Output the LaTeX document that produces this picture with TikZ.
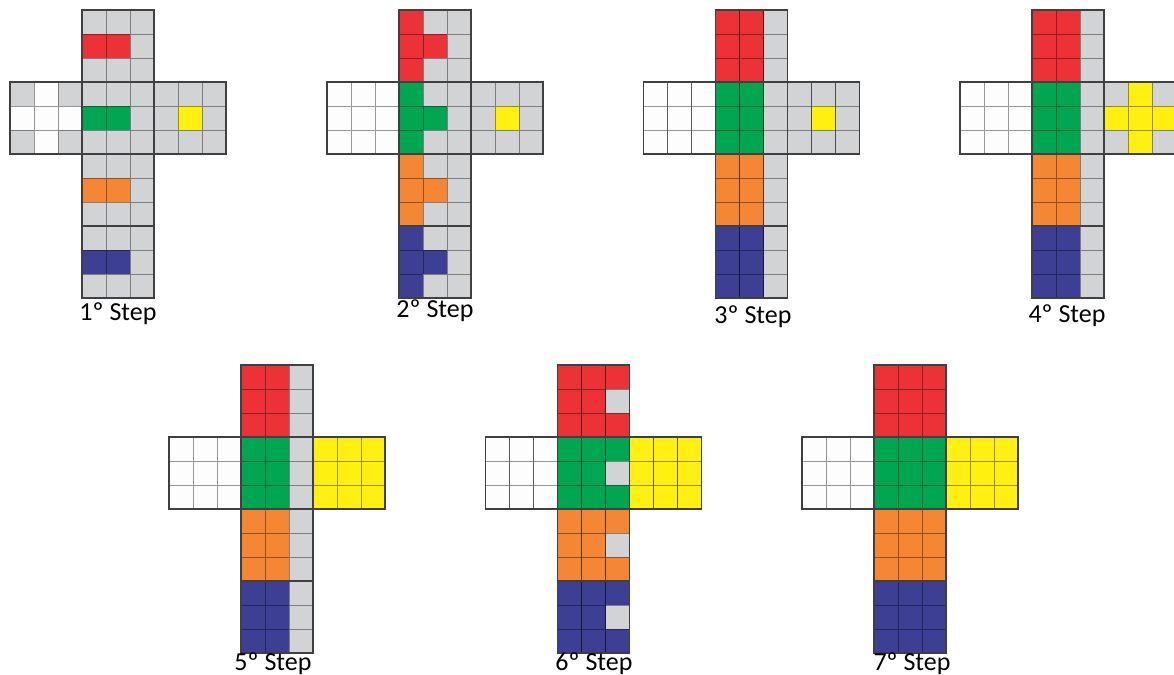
\documentclass[tikz,border=0pt]{standalone}
\usepackage{fontspec}
\setmainfont{Carlito}
\usepackage{xcolor}
\usepackage{tikz}

\definecolor{Rd}{HTML}{EC3237}
\definecolor{Gn}{HTML}{00A651}
\definecolor{Or}{HTML}{F58634}
\definecolor{Bu}{HTML}{3C3F94}
\definecolor{Yw}{HTML}{FFF012}
\definecolor{Wh}{HTML}{FDFDFD}
\definecolor{Gy}{HTML}{D1D3D4}

% one 3x3 face: #1,#2 = top-left corner, #3 = nine cell colours (row by row)
\newcommand{\cubeface}[3]{%
  \foreach \c [count=\i from 0] in {#3} {
    \pgfmathtruncatemacro{\fcol}{mod(\i,3)}
    \pgfmathtruncatemacro{\frow}{div(\i,3)}
    \fill[fill=\c] ({#1+24*\fcol},{#2+24*\frow}) rectangle ++(24,24);
    \draw[cell] ({#1+24*\fcol},{#2+24*\frow}) rectangle ++(24,24);
  }
  \draw[face] (#1,#2) rectangle ++(72,72);
}

% cross-shaped net: #1,#2 = top-left of the column, then up, left, front, right, down, back
\newcommand{\cubenet}[8]{%
  \cubeface{#1}{#2}{#3}
  \cubeface{#1-72}{#2+72}{#4}
  \cubeface{#1}{#2+72}{#5}
  \cubeface{#1+72}{#2+72}{#6}
  \cubeface{#1}{#2+144}{#7}
  \cubeface{#1}{#2+216}{#8}
}

\begin{document}
\begin{tikzpicture}[
    x=0.5pt, y=-0.5pt,
    cell/.style={draw=black, draw opacity=0.4, line width=0.5pt},
    face/.style={draw=black!75, line width=0.7pt},
    steplabel/.style={anchor=base, inner sep=0pt, font=\fontsize{13}{15}\selectfont},
  ]
  \useasboundingbox (0,0) rectangle (1174,675);

  % --- Step 1 ---
  \cubenet{82}{10}
    {Gy,Gy,Gy,Rd,Rd,Gy,Gy,Gy,Gy}
    {Gy,Wh,Gy,Wh,Wh,Wh,Gy,Wh,Gy}
    {Gy,Gy,Gy,Gn,Gn,Gy,Gy,Gy,Gy}
    {Gy,Gy,Gy,Gy,Yw,Gy,Gy,Gy,Gy}
    {Gy,Gy,Gy,Or,Or,Gy,Gy,Gy,Gy}
    {Gy,Gy,Gy,Bu,Bu,Gy,Gy,Gy,Gy}
  \node[steplabel] (label1) at (118,320) {1º Step};

  % --- Step 2 ---
  \cubenet{399}{10}
    {Rd,Gy,Gy,Rd,Rd,Gy,Rd,Gy,Gy}
    {Wh,Wh,Wh,Wh,Wh,Wh,Wh,Wh,Wh}
    {Gn,Gy,Gy,Gn,Gn,Gy,Gn,Gy,Gy}
    {Gy,Gy,Gy,Gy,Yw,Gy,Gy,Gy,Gy}
    {Or,Gy,Gy,Or,Or,Gy,Or,Gy,Gy}
    {Bu,Gy,Gy,Bu,Bu,Gy,Bu,Gy,Gy}
  \node[steplabel] (label2) at (435,317) {2º Step};

  % --- Step 3 ---
  \cubenet{715.5}{10}
    {Rd,Rd,Gy,Rd,Rd,Gy,Rd,Rd,Gy}
    {Wh,Wh,Wh,Wh,Wh,Wh,Wh,Wh,Wh}
    {Gn,Gn,Gy,Gn,Gn,Gy,Gn,Gn,Gy}
    {Gy,Gy,Gy,Gy,Yw,Gy,Gy,Gy,Gy}
    {Or,Or,Gy,Or,Or,Gy,Or,Or,Gy}
    {Bu,Bu,Gy,Bu,Bu,Gy,Bu,Bu,Gy}
  \node[steplabel] (label3) at (753,323) {3º Step};

  % --- Step 4 ---
  \cubenet{1032}{10}
    {Rd,Rd,Gy,Rd,Rd,Gy,Rd,Rd,Gy}
    {Wh,Wh,Wh,Wh,Wh,Wh,Wh,Wh,Wh}
    {Gn,Gn,Gy,Gn,Gn,Gy,Gn,Gn,Gy}
    {Gy,Yw,Gy,Yw,Yw,Yw,Gy,Yw,Gy}
    {Or,Or,Gy,Or,Or,Gy,Or,Or,Gy}
    {Bu,Bu,Gy,Bu,Bu,Gy,Bu,Bu,Gy}
  \node[steplabel] (label4) at (1067,322) {4º Step};

  % --- Step 5 ---
  \cubenet{241}{365}
    {Rd,Rd,Gy,Rd,Rd,Gy,Rd,Rd,Gy}
    {Wh,Wh,Wh,Wh,Wh,Wh,Wh,Wh,Wh}
    {Gn,Gn,Gy,Gn,Gn,Gy,Gn,Gn,Gy}
    {Yw,Yw,Yw,Yw,Yw,Yw,Yw,Yw,Yw}
    {Or,Or,Gy,Or,Or,Gy,Or,Or,Gy}
    {Bu,Bu,Gy,Bu,Bu,Gy,Bu,Bu,Gy}
  \node[steplabel] (label5) at (273,670) {5º Step};

  % --- Step 6 ---
  \cubenet{557.5}{365}
    {Rd,Rd,Rd,Rd,Rd,Gy,Rd,Rd,Rd}
    {Wh,Wh,Wh,Wh,Wh,Wh,Wh,Wh,Wh}
    {Gn,Gn,Gn,Gn,Gn,Gy,Gn,Gn,Gn}
    {Yw,Yw,Yw,Yw,Yw,Yw,Yw,Yw,Yw}
    {Or,Or,Or,Or,Or,Gy,Or,Or,Or}
    {Bu,Bu,Bu,Bu,Bu,Gy,Bu,Bu,Bu}
  \node[steplabel] (label6) at (594,670) {6º Step};

  % --- Step 7 ---
  \cubenet{874}{365}
    {Rd,Rd,Rd,Rd,Rd,Rd,Rd,Rd,Rd}
    {Wh,Wh,Wh,Wh,Wh,Wh,Wh,Wh,Wh}
    {Gn,Gn,Gn,Gn,Gn,Gn,Gn,Gn,Gn}
    {Yw,Yw,Yw,Yw,Yw,Yw,Yw,Yw,Yw}
    {Or,Or,Or,Or,Or,Or,Or,Or,Or}
    {Bu,Bu,Bu,Bu,Bu,Bu,Bu,Bu,Bu}
  \node[steplabel] (label7) at (912,670) {7º Step};

\end{tikzpicture}
\end{document}
